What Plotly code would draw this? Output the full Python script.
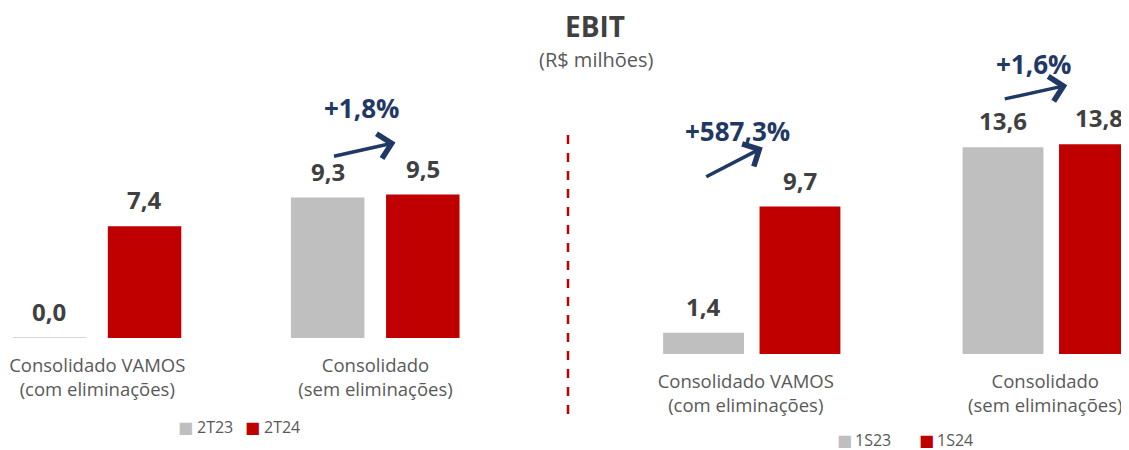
import plotly.graph_objects as go

# ---------------- data ----------------
categories = ["Consolidado VAMOS<br>(com eliminações)", "Consolidado<br>(sem eliminações)"]
left_series = ["2T23", "2T24"]
left_prev = [0.0, 9.3]
left_curr = [7.4, 9.5]
left_growth = [None, "+1,8%"]

right_series = ["1S23", "1S24"]
right_prev = [1.4, 13.6]
right_curr = [9.7, 13.8]
right_growth = ["+587,3%", "+1,6%"]

title_text = "EBIT"
subtitle_text = "(R$ milhões)"

# ---------------- style ----------------
# the page body has an 8px margin; the figure is sized to fit the window
OX, OY = 8, 8
W, H = 1129 - OX, 450 - OY
GRAY = "#BFBFBF"
RED = "#C00000"
NAVY = "#1F3864"
LABEL = "#404040"
TEXT = "#595959"
FONT = "Open Sans"


def px(x):
    return (x - OX) / W


def py(y):
    return 1 - (y - OY) / H


# bar geometry (in category units)
L_WIDTH, L_OFF_PREV, L_OFF_CURR = 0.264, -0.304, 0.038
R_WIDTH, R_OFF_PREV, R_OFF_CURR = 0.270, -0.296, 0.026


def fmt(v):
    return f"{v:.1f}".replace(".", ",")


fig = go.Figure()

panels = [
    dict(xa="x", ya="y", prev=left_prev, curr=left_curr, names=left_series,
         w=L_WIDTH, op=L_OFF_PREV, oc=L_OFF_CURR, growth=left_growth,
         gshift=[None, (-14, 87, 20, 52, -63, 14)],
         legend_x=[(185, 195), (252, 262)], legend_y=427),
    dict(xa="x2", ya="y2", prev=right_prev, curr=right_curr, names=right_series,
         w=R_WIDTH, op=R_OFF_PREV, oc=R_OFF_CURR, growth=right_growth,
         gshift=[(-14, 76, 11, 59, -58, 30), (-18, 80, 16, 59, -64, 14)],
         legend_x=[(844, 853), (926, 935)], legend_y=440),
]

annotations = []
shapes = []
for p in panels:
    series = [(p["prev"], GRAY, p["op"], p["names"][0]),
              (p["curr"], RED, p["oc"], p["names"][1])]
    for k, (vals, color, off, name) in enumerate(series):
        fig.add_trace(go.Bar(
            x=categories, y=vals, name=name, xaxis=p["xa"], yaxis=p["ya"],
            marker=dict(color=color, line=dict(width=0)),
            width=p["w"], offset=off, showlegend=False, hoverinfo="y",
        ))
        for i, v in enumerate(vals):
            cx = i + off + p["w"] / 2
            annotations.append(dict(
                x=cx, y=v, xref=p["xa"], yref=p["ya"], text=fmt(v),
                showarrow=False, yanchor="bottom", yshift=8,
                font=dict(family=FONT, size=24, color=LABEL, weight="bold"),
            ))
            if v == 0:
                shapes.append(dict(
                    type="line", xref=p["xa"], yref=p["ya"],
                    x0=i + off, x1=i + off + p["w"], y0=v, y1=v,
                    line=dict(color="#C8C8C8", width=1.5),
                ))
        # legend entry (marker square + label)
        sqx, tx = p["legend_x"][k]
        annotations.append(dict(
            x=px(sqx), y=py(p["legend_y"]), xref="paper", yref="paper",
            xanchor="center", yanchor="middle", text="■", showarrow=False,
            font=dict(family="DejaVu Sans", size=16, color=color),
        ))
        annotations.append(dict(
            x=px(tx), y=py(p["legend_y"]), xref="paper", yref="paper",
            xanchor="left", yanchor="middle", text=name, showarrow=False,
            font=dict(family=FONT, size=16, color=TEXT),
        ))
    # growth annotations with arrows
    for i, g in enumerate(p["growth"]):
        if g is None:
            continue
        tx, ty, hx, hy, ax, ay = p["gshift"][i]
        ymax = max(p["prev"][i], p["curr"][i])
        annotations.append(dict(
            x=i, y=ymax, xref=p["xa"], yref=p["ya"], text=g, showarrow=False,
            xshift=tx, yshift=ty,
            font=dict(family=FONT, size=26, color=NAVY, weight="bold"),
        ))
        annotations.append(dict(
            x=i, y=ymax, xref=p["xa"], yref=p["ya"], text="", showarrow=True,
            xshift=hx, yshift=hy, ax=ax, ay=ay,
            arrowhead=4, arrowsize=1.4, arrowwidth=3.5, arrowcolor=NAVY,
        ))

# title & subtitle
annotations.append(dict(
    x=px(595), y=py(26), xref="paper", yref="paper", yanchor="middle",
    text=title_text, showarrow=False,
    font=dict(family=FONT, size=28, color=LABEL, weight="bold"),
))
annotations.append(dict(
    x=px(596), y=py(59), xref="paper", yref="paper", yanchor="middle",
    text=subtitle_text, showarrow=False,
    font=dict(family=FONT, size=20, color=TEXT),
))

# divider
shapes.append(dict(
    type="line", xref="paper", yref="paper",
    x0=px(568), x1=px(568), y0=py(135), y1=py(418),
    line=dict(color=RED, width=2.5, dash="dash"),
))

axis_common = dict(showgrid=False, zeroline=False, showline=False, ticks="",
                   tickfont=dict(family=FONT, size=18.5, color=TEXT),
                   ticklabelstandoff=14, fixedrange=True)
yaxis_common = dict(showgrid=False, zeroline=False, showline=False,
                    showticklabels=False, fixedrange=True)

L_SCALE = 278.25   # px per category (left)
R_SCALE = 299.5    # px per category (right)
l_start = -(97.25 - OX) / L_SCALE
r_start = -(751.75 - 580) / R_SCALE

fig.update_layout(
    width=W, height=H,
    margin=dict(l=0, r=0, t=0, b=0),
    paper_bgcolor="white", plot_bgcolor="white",
    barmode="overlay",
    showlegend=False,
    xaxis=dict(domain=[0, px(560)], range=[l_start, l_start + (560 - OX) / L_SCALE],
               anchor="y", **axis_common),
    yaxis=dict(domain=[py(338), py(100)], range=[0, 238 / 15.1], anchor="x", **yaxis_common),
    xaxis2=dict(domain=[px(580), 1], range=[r_start, r_start + (1129 - 580) / R_SCALE],
                anchor="y2", ticklabelshift=-6, **axis_common),
    yaxis2=dict(domain=[py(354), py(100)], range=[0, 254 / 15.2], anchor="x2", **yaxis_common),
    annotations=annotations,
    shapes=shapes,
    font=dict(family=FONT),
)

fig.write_html("out.html")
